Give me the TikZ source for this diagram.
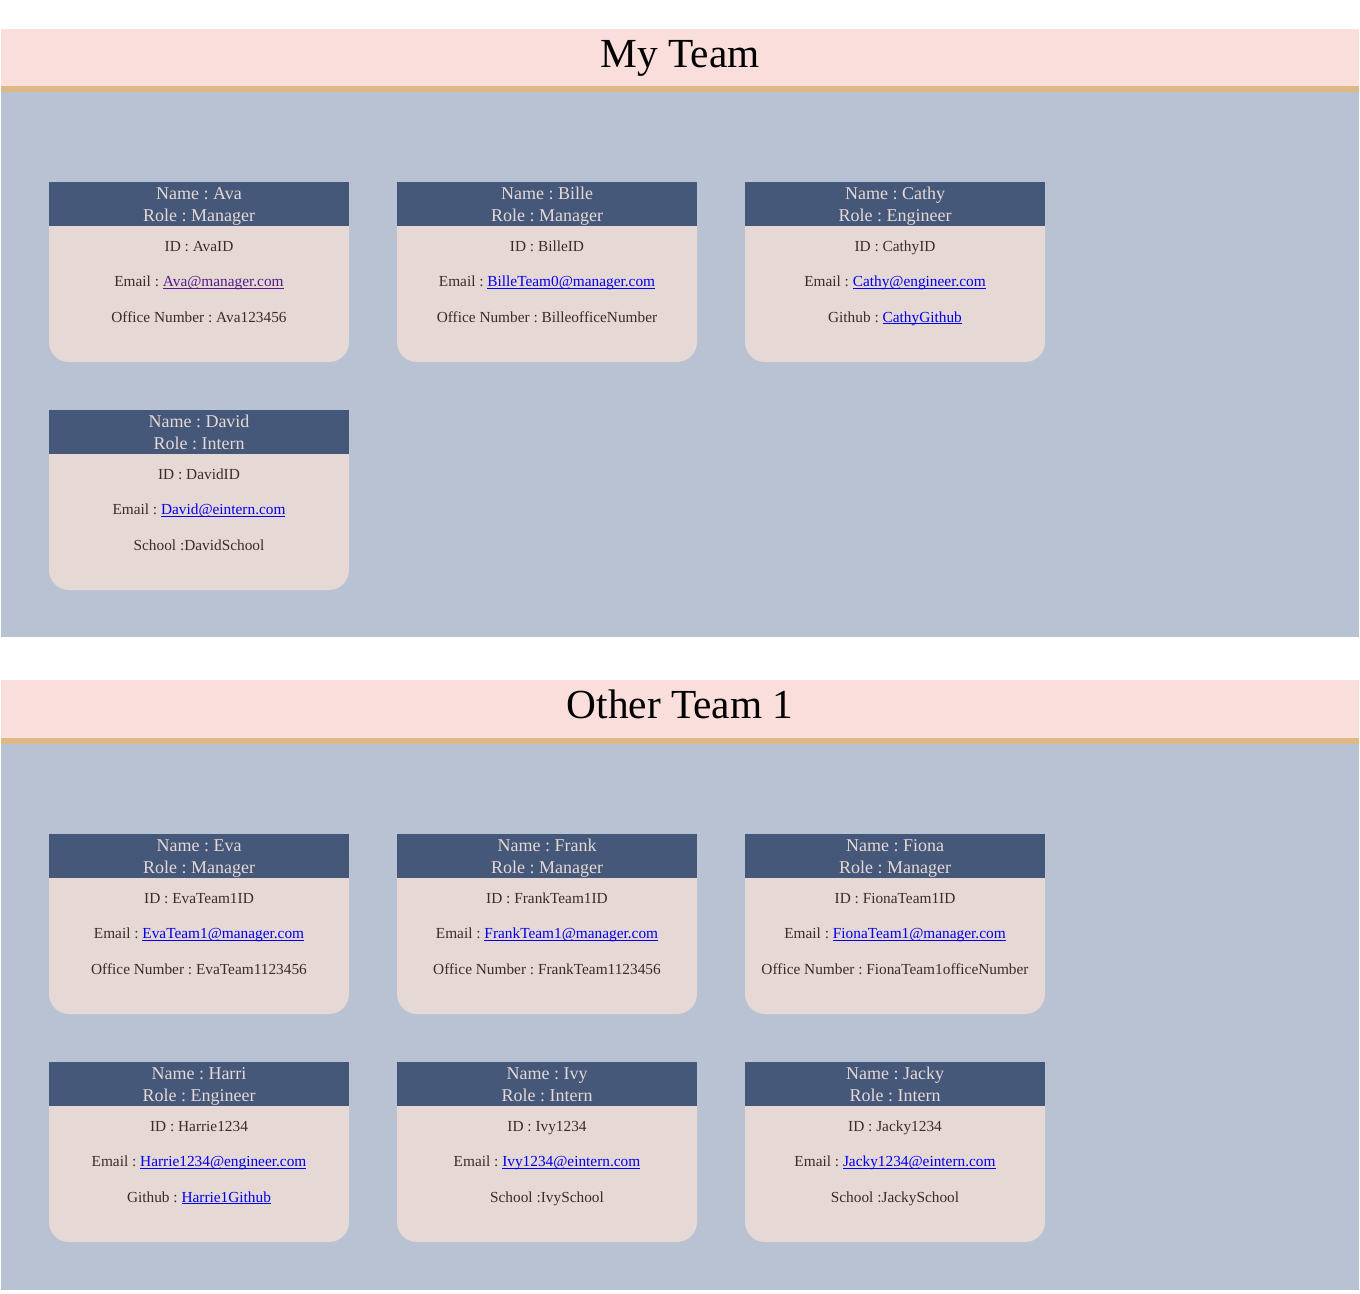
\documentclass[tikz,border=0pt]{standalone}
\usepackage{fontspec}
\setmainfont{Liberation Serif}
\usetikzlibrary{positioning}
\frenchspacing

\definecolor{bandpink}{RGB}{250,222,219}
\definecolor{bandtan}{RGB}{222,184,135}
\definecolor{teamblue}{RGB}{185,194,210}
\definecolor{cardhead}{RGB}{69,88,122}
\definecolor{cardbody}{RGB}{230,216,213}
\definecolor{cardtext}{RGB}{58,44,44}
\definecolor{linkblue}{RGB}{0,0,238}
\definecolor{linkvisited}{RGB}{85,26,139}

\newsavebox{\lnkbox}
\newcommand{\lnk}[2][linkblue]{\textcolor{#1}{\sbox{\lnkbox}{#2}\rlap{\rule[-1.8pt]{\wd\lnkbox}{0.75pt}}\usebox{\lnkbox}}}

\tikzset{
	teamtitle/.style={font=\fontsize{31}{37}\selectfont, anchor=base, inner sep=0pt},
	headtext/.style={text=cardbody, font=\fontsize{13.5}{16}\selectfont, anchor=base, inner sep=0pt},
	bodytext/.style={text=cardtext, font=\fontsize{11.5}{14}\selectfont, anchor=base, inner sep=0pt},
}

% one card: id, x, y, name, role, ID, email, last line
\newcommand{\card}[8]{
	\fill[cardbody, rounded corners=15pt] (#2,#3) rectangle (#2+300,#3+180);
	\fill[cardhead] (#2,#3) rectangle (#2+300,#3+44);
	\node[headtext] (#1-name) at (#2+150,#3+17) {Name : #4};
	\node[headtext] (#1-role) at (#2+150,#3+39) {Role : #5};
	\node[bodytext] (#1-id) at (#2+150,#3+69) {ID : #6};
	\node[bodytext] (#1-mail) at (#2+150,#3+104.5) {Email : #7};
	\node[bodytext] (#1-more) at (#2+150,#3+140) {#8};
}

\begin{document}
\begin{tikzpicture}[x=0.75pt, y=-0.75pt]
	\useasboundingbox (0,0) rectangle (1360,1293);
	
	% my team
	\fill[bandpink] (1,29) rectangle (1359,86);
	\fill[bandtan] (1,86) rectangle (1359,92);
	\fill[teamblue] (1,92) rectangle (1359,637);
	\node[teamtitle] (myteam) at (680,67) {My Team};
	
	\card{ava}{49}{182}{Ava}{Manager}{AvaID}{\lnk[linkvisited]{Ava@manager.com}}{Office Number : Ava123456}
	\card{bille}{397}{182}{Bille}{Manager}{BilleID}{\lnk{BilleTeam0@manager.com}}{Office Number : BilleofficeNumber}
	\card{cathy}{745}{182}{Cathy}{Engineer}{CathyID}{\lnk{Cathy@engineer.com}}{Github : \lnk{CathyGithub}}
	\card{david}{49}{410}{David}{Intern}{DavidID}{\lnk{David@eintern.com}}{School :DavidSchool}
	
	% other team 1
	\fill[bandpink] (1,680) rectangle (1359,738);
	\fill[bandtan] (1,738) rectangle (1359,743.5);
	\fill[teamblue] (1,743.5) rectangle (1359,1290);
	\node[teamtitle] (otherteam) at (680,718) {Other Team 1};
	
	\card{eva}{49}{834}{Eva}{Manager}{EvaTeam1ID}{\lnk{EvaTeam1@manager.com}}{Office Number : EvaTeam1123456}
	\card{frank}{397}{834}{Frank}{Manager}{FrankTeam1ID}{\lnk{FrankTeam1@manager.com}}{Office Number : FrankTeam1123456}
	\card{fiona}{745}{834}{Fiona}{Manager}{FionaTeam1ID}{\lnk{FionaTeam1@manager.com}}{Office Number : FionaTeam1officeNumber}
	\card{harri}{49}{1062}{Harri}{Engineer}{Harrie1234}{\lnk{Harrie1234@engineer.com}}{Github : \lnk{Harrie1Github}}
	\card{ivy}{397}{1062}{Ivy}{Intern}{Ivy1234}{\lnk{Ivy1234@eintern.com}}{School :IvySchool}
	\card{jacky}{745}{1062}{Jacky}{Intern}{Jacky1234}{\lnk{Jacky1234@eintern.com}}{School :JackySchool}
\end{tikzpicture}
\end{document}
